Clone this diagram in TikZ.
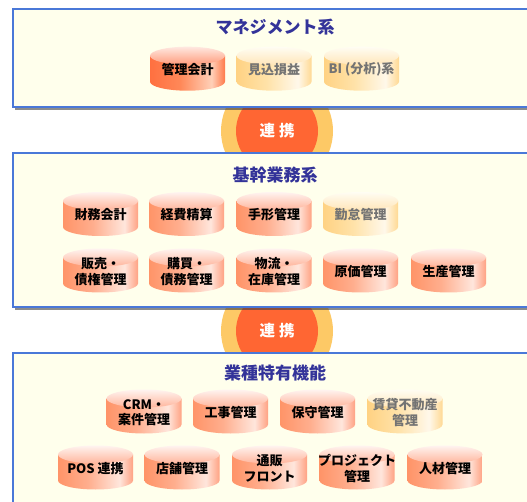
\documentclass[tikz,border=0pt]{standalone}
\usepackage{fontspec}
\newfontfamily\jp{Noto Sans CJK JP}
\usetikzlibrary{shadows}
\definecolor{panelfill}{HTML}{FFFFEC}
\definecolor{panelborder}{HTML}{4A78D8}
\definecolor{titleblue}{HTML}{333399}
\definecolor{ringout}{HTML}{FDC966}
\definecolor{ringin}{HTML}{FF6633}
% salmon
\definecolor{sA}{HTML}{FF9468}\definecolor{sB}{HTML}{FFAE8E}\definecolor{sC}{HTML}{FFE6DC}\definecolor{sD}{HTML}{FFA283}
\definecolor{sT}{HTML}{FFF4F0}\definecolor{sU}{HTML}{FFB59C}
% dark
\definecolor{dA}{HTML}{FF7040}\definecolor{dB}{HTML}{FF8858}\definecolor{dC}{HTML}{FFD0B8}\definecolor{dD}{HTML}{FF7A4A}
\definecolor{dT}{HTML}{FFE8E0}\definecolor{dU}{HTML}{FF9C7C}
% pale
\definecolor{pA}{HTML}{FFD283}\definecolor{pB}{HTML}{FFE2A8}\definecolor{pC}{HTML}{FFF8EA}\definecolor{pD}{HTML}{FFD993}
\definecolor{pT}{HTML}{FFFDF3}\definecolor{pU}{HTML}{FFE6BA}
\pgfdeclarehorizontalshading{bodyS}{100bp}{color(0bp)=(sA); color(25bp)=(sA); color(45bp)=(sB); color(66bp)=(sC); color(75bp)=(sD); color(100bp)=(sD)}
\pgfdeclarehorizontalshading{bodyD}{100bp}{color(0bp)=(dA); color(25bp)=(dA); color(45bp)=(dB); color(66bp)=(dC); color(75bp)=(dD); color(100bp)=(dD)}
\pgfdeclarehorizontalshading{bodyP}{100bp}{color(0bp)=(pA); color(25bp)=(pA); color(45bp)=(pB); color(66bp)=(pC); color(75bp)=(pD); color(100bp)=(pD)}
\tikzset{
  panel/.style={draw=panelborder, line width=1.5pt, fill=panelfill, rectangle, inner sep=0pt,
    drop shadow={shadow xshift=1.5pt, shadow yshift=-3pt, opacity=0.6, fill=black!75}},
  ptitle/.style={font=\jp\bfseries\fontsize{17}{19}\selectfont, text=titleblue},
  cyltxt/.style={font=\jp\bfseries\fontsize{13}{15.5}\selectfont, align=center, inner sep=0pt},
  cyltxtS/.style={cyltxt, text=black},
  cyltxtD/.style={cyltxt, text=black},
  cyltxtP/.style={cyltxt, text=black!55},
  topS/.style={top color=sT, bottom color=sU},
  topD/.style={top color=dT, bottom color=dU},
  topP/.style={top color=pT, bottom color=pU},
  ringo/.style={circle, fill=ringout, minimum size=112pt, inner sep=0pt},
  ringi/.style={circle, fill=ringin, minimum size=82pt, inner sep=0pt, text=white,
    font=\jp\bfseries\fontsize{15.5}{17}\selectfont},
}
\newcommand\cyl[5]{%
  \shade[shading=body#4] (#2-37.5,#3-13) -- (#2-37.5,#3+13)
     arc[start angle=180, end angle=0, x radius=37.5, y radius=9] -- (#2+37.5,#3-13) -- cycle;
  \shade[top#4] (#2,#3-13) ellipse[x radius=37.5, y radius=9];
  \node[cyltxt#4] (#1) at (#2,#3+1) {#5};
}
\begin{document}
\begin{tikzpicture}[x=1pt, y=-1pt]
\useasboundingbox (0,0) rectangle (527,502);
\clip (0,0) rectangle (527,502);
\fill[white] (0,0) rectangle (527,502);
% connector rings
\node[ringo] (ro1) at (277,131) {};
\node[ringi] (ri1) at (277,131) {連\hspace{4pt}携};
\node[ringo] (ro2) at (277,331) {};
\node[ringi] (ri2) at (277,331) {連\hspace{4pt}携};
% panels
\node[panel, minimum width=547pt, minimum height=98pt] (p1) at (286.5,58) {};
\node[panel, minimum width=547pt, minimum height=154pt] (p2) at (286.5,230) {};
\node[panel, minimum width=547pt, minimum height=200pt] (p3) at (286.5,453) {};
% titles
\node[ptitle] (t1) at (275,27) {マネジメント系};
\node[ptitle] (t2) at (275,175) {基幹業務系};
\node[ptitle] (t3) at (275,373) {業種特有機能};
% panel 1
\cyl{a1}{187.5}{68.7}{D}{管理会計}
\cyl{a2}{274}{68.7}{P}{見込損益}
\cyl{a3}{361.5}{68.7}{P}{BI (分析)系}
% panel 2
\cyl{b1}{100.5}{214}{S}{財務会計}
\cyl{b2}{186.5}{214}{S}{経費精算}
\cyl{b3}{274}{214}{S}{手形管理}
\cyl{b4}{360.5}{214}{P}{勤怠管理}
\cyl{c1}{100.5}{270.5}{S}{販売・\\債権管理}
\cyl{c2}{186.5}{270.5}{S}{購買・\\債務管理}
\cyl{c3}{274}{270.5}{S}{物流・\\在庫管理}
\cyl{c4}{360.5}{270.5}{S}{原価管理}
\cyl{c5}{448.5}{270.5}{S}{生産管理}
% panel 3
\cyl{d1}{144}{411.5}{S}{CRM・\\案件管理}
\cyl{d2}{230.5}{411.5}{S}{工事管理}
\cyl{d3}{317.5}{411.5}{S}{保守管理}
\cyl{d4}{405}{411.5}{P}{賃貸不動産\\管理}
\cyl{e1}{95.5}{467.5}{S}{POS 連携}
\cyl{e2}{182}{467.5}{S}{店舗管理}
\cyl{e3}{269.5}{467.5}{S}{通販\\フロント}
\cyl{e4}{357}{467.5}{S}{プロジェクト\\管理}
\cyl{e5}{445}{467.5}{S}{人材管理}
\end{tikzpicture}
\end{document}
